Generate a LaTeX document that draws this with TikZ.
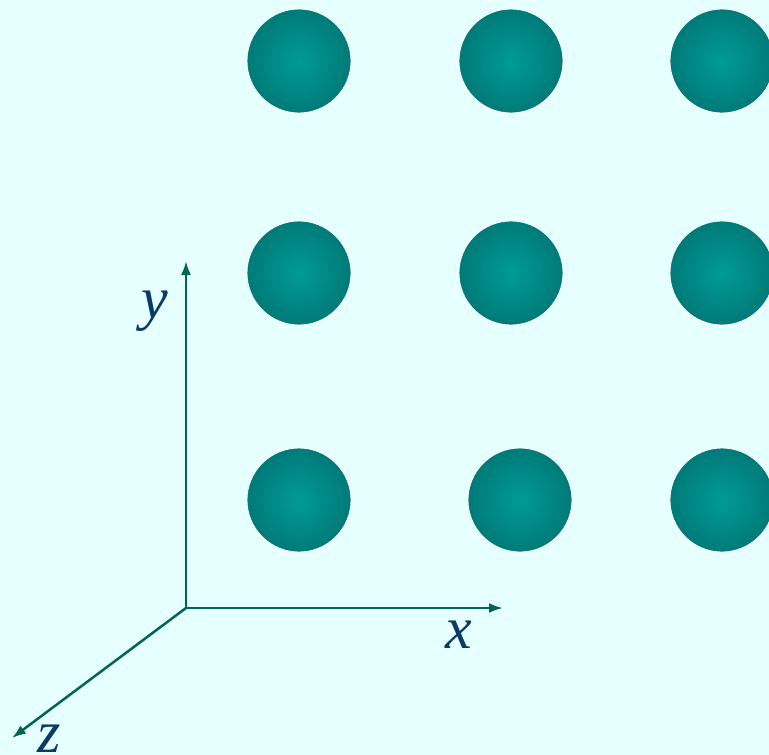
\documentclass[tikz,border=0pt]{standalone}
\usepackage{fontspec}
\setmainfont{Liberation Serif}
\usetikzlibrary{arrows.meta}
\definecolor{bg}{HTML}{E6FFFF}
\definecolor{ballin}{HTML}{009A96}
\definecolor{ballout}{HTML}{007A78}
\definecolor{axiscol}{HTML}{006458}
\definecolor{labcol}{HTML}{0A3A66}
\tikzset{
  ball/.style={circle, minimum size=104pt, inner sep=0pt, draw=white, line width=0.8pt, inner color=ballin, outer color=ballout},
  axisline/.style={draw=axiscol, line width=2.5pt, -{Latex[length=14pt,width=10pt]}},
  axlab/.style={text=labcol, font=\fontsize{60}{60}\selectfont\itshape, inner sep=0pt}
}
\begin{document}
\begin{tikzpicture}[x=1pt,y=-1pt]
\fill[bg] (0,0) rectangle (769,755);
\useasboundingbox (0,0) rectangle (769,755);
\node[ball] (b11) at (299,61) {};
\node[ball] (b12) at (511,61) {};
\node[ball] (b13) at (722,61) {};
\node[ball] (b21) at (299,273) {};
\node[ball] (b22) at (511,273) {};
\node[ball] (b23) at (722,273) {};
\node[ball] (b31) at (299,500) {};
\node[ball] (b32) at (520,500) {};
\node[ball] (b33) at (722,500) {};
\coordinate (O) at (186,608);
\coordinate (X) at (503,608);
\coordinate (Y) at (186,261);
\coordinate (Z) at (12,738);
\path[axisline] (O) -- (X);
\path[axisline] (O) -- (Y);
\path[axisline] (O) -- (Z);
\node[axlab, anchor=base] (lx) at (459,648) {x};
\node[axlab, anchor=base] (ly) at (155,318) {y};
\node[axlab, anchor=base] (lz) at (49,752) {z};
\end{tikzpicture}
\end{document}
